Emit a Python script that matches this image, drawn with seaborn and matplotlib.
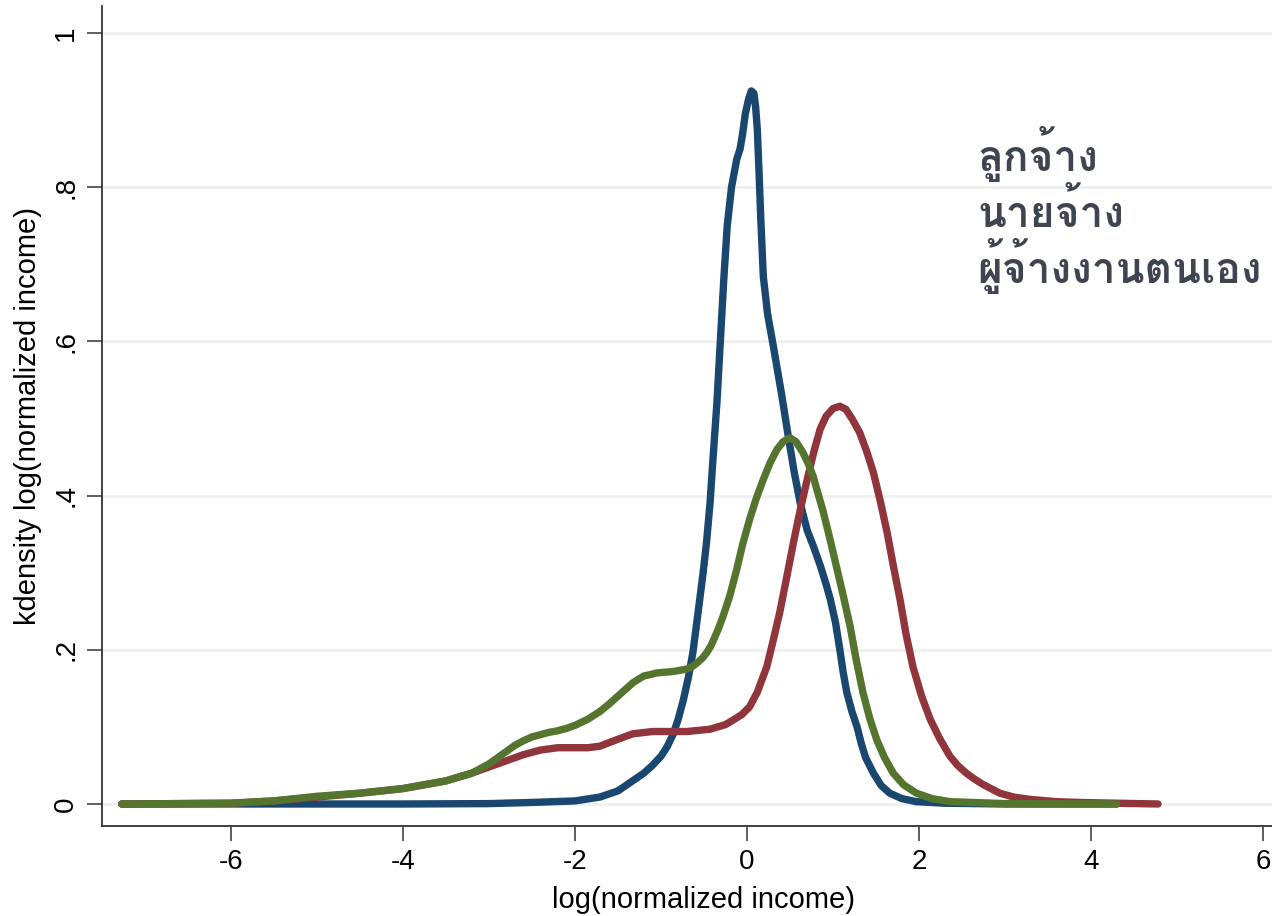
import numpy as np
import pandas as pd
import seaborn as sns
from matplotlib import pyplot as plt
from matplotlib import font_manager
from matplotlib.ft2font import FT2Font

# values
blue_x = [-7.27, -5.7, -4.0, -3.0, -2.5, -2.0, -1.71, -1.5, -1.33, -1.2, -1.1, -1.0, -0.93, -0.86,
          -0.8, -0.74, -0.68, -0.63, -0.59, -0.55, -0.51, -0.47, -0.43, -0.40, -0.35, -0.31, -0.27,
          -0.23, -0.18, -0.12, -0.08, -0.05, -0.02, 0.02, 0.05, 0.08, 0.10, 0.12, 0.14, 0.16,
          0.19, 0.24, 0.30, 0.40, 0.48, 0.55, 0.62, 0.70, 0.77, 0.85, 0.92, 0.97, 1.03,
          1.08, 1.12, 1.16, 1.22, 1.28, 1.33, 1.38, 1.47, 1.56, 1.66, 1.80, 1.97, 2.3, 3.0, 4.3]
blue_y = [0.0, 0.0, 0.0, 0.0005, 0.002, 0.004, 0.009, 0.017, 0.030, 0.040, 0.05, 0.062, 0.074, 0.09,
          0.11, 0.135, 0.165, 0.196, 0.23, 0.265, 0.30, 0.34, 0.39, 0.44, 0.52, 0.60, 0.68,
          0.75, 0.80, 0.836, 0.85, 0.87, 0.895, 0.915, 0.925, 0.922, 0.905, 0.875, 0.82, 0.76,
          0.684, 0.635, 0.598, 0.533, 0.477, 0.43, 0.39, 0.355, 0.335, 0.31, 0.285, 0.265, 0.235,
          0.20, 0.17, 0.145, 0.12, 0.10, 0.078, 0.06, 0.040, 0.024, 0.014, 0.007, 0.003, 0.001, 0.0, 0.0]

red_x = [-7.27, -6.0, -5.5, -5.0, -4.5, -4.0, -3.5, -3.2, -3.0, -2.8, -2.6, -2.4, -2.2, -2.0,
         -1.85, -1.71, -1.5, -1.33, -1.1, -0.93, -0.7, -0.43, -0.25, -0.16, -0.06, 0.03, 0.12, 0.23,
         0.30, 0.38, 0.46, 0.54, 0.62, 0.70, 0.78, 0.85, 0.92, 1.0, 1.08, 1.15, 1.22, 1.31, 1.39,
         1.47, 1.55, 1.63, 1.70, 1.78, 1.85, 1.93, 2.03, 2.13, 2.24, 2.36, 2.45, 2.55, 2.65, 2.75,
         2.94, 3.1, 3.29, 3.6, 3.87, 4.3, 4.78]
red_y = [0.0, 0.001, 0.004, 0.009, 0.014, 0.020, 0.030, 0.040, 0.048, 0.056, 0.064, 0.070, 0.073, 0.073,
         0.073, 0.075, 0.084, 0.091, 0.094, 0.094, 0.094, 0.097, 0.103, 0.109, 0.116, 0.126, 0.145, 0.178,
         0.21, 0.248, 0.293, 0.339, 0.382, 0.421, 0.458, 0.486, 0.503, 0.513, 0.516, 0.512, 0.500, 0.482, 0.458,
         0.43, 0.393, 0.352, 0.31, 0.265, 0.22, 0.178, 0.14, 0.110, 0.085, 0.062, 0.050, 0.040, 0.032, 0.025,
         0.014, 0.009, 0.006, 0.003, 0.002, 0.001, 0.0]

green_x = [-7.27, -6.0, -5.5, -5.0, -4.5, -4.0, -3.5, -3.2, -3.0, -2.9, -2.8, -2.7, -2.6, -2.5, -2.4,
           -2.3, -2.2, -2.1, -2.0, -1.85, -1.71, -1.6, -1.5, -1.4, -1.33, -1.26, -1.2, -1.12, -1.05,
           -0.95, -0.85, -0.70, -0.64, -0.58, -0.52, -0.47, -0.42, -0.38, -0.33, -0.28, -0.2,
           -0.12, -0.05, 0.03, 0.11, 0.19, 0.27, 0.35, 0.42, 0.50, 0.57, 0.65, 0.71, 0.77, 0.82,
           0.88, 0.96, 1.04, 1.12, 1.20, 1.27, 1.35, 1.43, 1.51, 1.6, 1.70, 1.82, 1.97, 2.15,
           2.36, 3.0, 4.3]
green_y = [0.0, 0.001, 0.004, 0.010, 0.014, 0.020, 0.030, 0.040, 0.052, 0.060, 0.068, 0.076, 0.082, 0.087, 0.090,
           0.093, 0.095, 0.098, 0.102, 0.110, 0.120, 0.130, 0.140, 0.150, 0.157, 0.162, 0.166, 0.168, 0.170,
           0.171, 0.172, 0.175, 0.178, 0.183, 0.189, 0.196, 0.205, 0.215, 0.228, 0.243, 0.27,
           0.304, 0.337, 0.369, 0.397, 0.421, 0.443, 0.46, 0.470, 0.475, 0.470, 0.456, 0.442, 0.425, 0.405,
           0.382, 0.346, 0.308, 0.27, 0.23, 0.187, 0.144, 0.11, 0.083, 0.06, 0.040, 0.025, 0.014, 0.007,
           0.003, 0.0005, 0.0]

labels = ['ลูกจ้าง', 'นายจ้าง', 'ผู้จ้างงานตนเอง']
colors = ['#1a476f', '#90353b', '#55752f']
y_ticks = [0, 0.2, 0.4, 0.6, 0.8, 1]
y_ticklabels = ['0', '.2', '.4', '.6', '.8', '1']
x_ticks = [-6, -4, -2, 0, 2, 4, 6]

df = pd.concat([
    pd.DataFrame({'x': blue_x, 'y': blue_y, 'group': labels[0]}),
    pd.DataFrame({'x': red_x, 'y': red_y, 'group': labels[1]}),
    pd.DataFrame({'x': green_x, 'y': green_y, 'group': labels[2]}),
], ignore_index=True)

# find a font that can draw Thai
thai_family = None
for f in font_manager.fontManager.ttflist:
    try:
        if 0x0E08 in FT2Font(f.fname).get_charmap():
            thai_family = f.name
            if f.weight in ('bold', 700):
                break
    except Exception:
        pass

sns.set_style('white')
plt.rcParams['font.family'] = ['Liberation Sans', 'DejaVu Sans']
plt.rcParams['axes.unicode_minus'] = False

fig = plt.figure(figsize=(12.72, 9.16), dpi=100)
ax = fig.add_axes([0.0802, 0.0983, 0.9465, 0.895])

sns.lineplot(data=df, x='x', y='y', hue='group', palette=colors, sort=False,
             estimator=None, linewidth=5.3, legend=False, ax=ax,
             solid_capstyle='round', solid_joinstyle='round')

ax.set_xlim(-7.5, 6.5)
ax.set_ylim(-0.0285, 1.035)
ax.set_xticks(x_ticks)
ax.set_yticks(y_ticks)
ax.set_yticklabels(y_ticklabels, rotation=90, va='center')
ax.yaxis.grid(True, color='#f0f0f0', linewidth=2)
ax.xaxis.grid(False)
ax.tick_params(axis='both', direction='out', length=10.5, width=1.1, color='#333333',
               labelsize=20, labelcolor='black', pad=6, left=True, bottom=True)
ax.set_xlabel('log(normalized income)', fontsize=21, labelpad=8, color='black')
ax.set_ylabel('kdensity log(normalized income)', fontsize=21, labelpad=8, color='black')
for side in ['left', 'bottom']:
    ax.spines[side].set_color('#333333')
    ax.spines[side].set_linewidth(1.3)
sns.despine(ax=ax)

# series names as text in the upper right
fam = [thai_family, 'DejaVu Sans'] if thai_family else ['DejaVu Sans']
for i, lab in enumerate(labels):
    fig.text(0.768, 1 - (171 + 56 * i) / 916, lab, fontsize=30.5, fontweight='bold',
             color='#3e4550', family=fam, va='baseline')

plt.savefig('out.png', dpi=100)
